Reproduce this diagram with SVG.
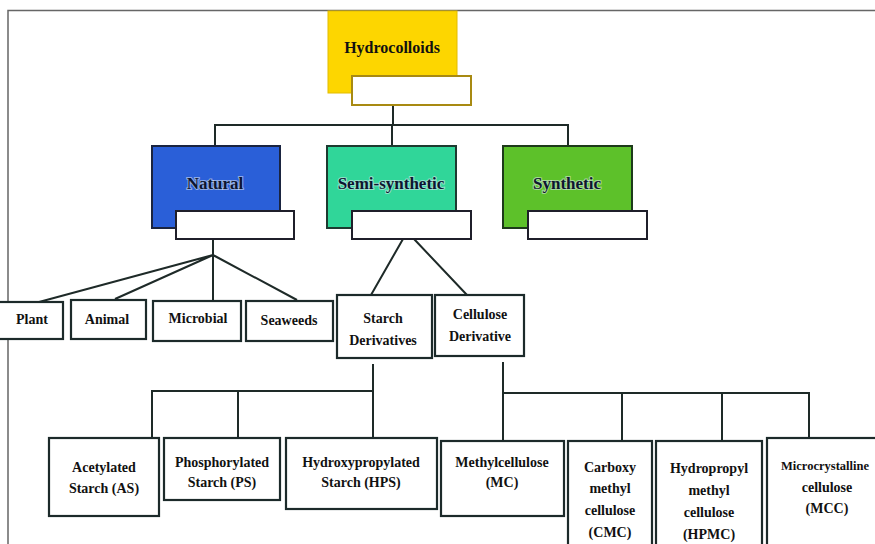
<svg xmlns="http://www.w3.org/2000/svg" width="875" height="544" viewBox="0 0 875 544">
<defs>
<style>
.t{font-family:"Liberation Serif","Times New Roman",serif;font-weight:bold;fill:#111;text-anchor:middle}
.t2{font-size:17px;fill:#0d1530;stroke:#e6ecf5;stroke-width:2;stroke-opacity:.55;paint-order:stroke}
.t3{font-size:14px}
.box{fill:#fff;stroke:#1c2a2a;stroke-width:2.2}
.lbl{fill:#fff;stroke:#1f1f2a;stroke-width:2}
.ln{stroke:#1e2a28;stroke-width:2;fill:none}
.frame{stroke:#666;stroke-width:1.5;fill:none}
</style>
</defs>
<rect width="875" height="544" fill="#fff"/>
<path class="frame" d="M8,544 V10.5 H875"/>

<g id="connectors">
<path class="ln" d="M393,105 V125 M215,125 H569 M215,124 V146 M392,124 V146 M568,124 V146"/>
<path class="ln" d="M213,239 V255 M213,255 L39,302 M213,255 L115,299 M213,255 V300 M213,255 L297,300"/>
<path class="ln" d="M403,239 L371,295 M414,239 L467,295"/>
<path class="ln" d="M373,364 V391 M152,391 H374 M152,390 V440 M238,390 V440 M373,390 V440"/>
<path class="ln" d="M503,362 V393 M503,393 H810 M503,392 V443 M622,392 V443 M722,392 V443 M809,392 V443"/>
</g>

<g id="hydrocolloids">
<rect x="328" y="11" width="129" height="82" fill="#fdd600" stroke="#e2bc00" stroke-width="1"/>
<rect x="352" y="76" width="119" height="29" fill="#fff" stroke="#a88a12" stroke-width="2"/>
<text class="t" x="392" y="53" font-size="16">Hydrocolloids</text>
</g>

<g id="natural">
<rect x="152" y="146" width="128" height="82" fill="#2a5fd8" stroke="#1a2440" stroke-width="2"/>
<rect class="lbl" x="176" y="211" width="118" height="28"/>
<text class="t t2" x="215" y="189">Natural</text>
</g>

<g id="semi-synthetic">
<rect x="327" y="146" width="129" height="82" fill="#30d699" stroke="#1d3a30" stroke-width="2"/>
<rect class="lbl" x="352" y="211" width="119" height="28"/>
<text class="t t2" x="391" y="189">Semi-synthetic</text>
</g>

<g id="synthetic">
<rect x="503" y="146" width="129" height="82" fill="#5dc12a" stroke="#1d3a1a" stroke-width="2"/>
<rect class="lbl" x="528" y="211" width="119" height="28"/>
<text class="t t2" x="567" y="189">Synthetic</text>
</g>

<g id="plant">
<rect class="box" x="-2" y="302" width="65" height="37"/>
<text class="t t3" x="32" y="324">Plant</text>
</g>
<g id="animal">
<rect class="box" x="71" y="300" width="75" height="39"/>
<text class="t t3" x="107" y="324">Animal</text>
</g>
<g id="microbial">
<rect class="box" x="153" y="301" width="88" height="40"/>
<text class="t t3" x="198" y="323">Microbial</text>
</g>
<g id="seaweeds">
<rect class="box" x="246" y="301" width="87" height="40"/>
<text class="t t3" x="289" y="325">Seaweeds</text>
</g>
<g id="starch-derivatives">
<rect class="box" x="337" y="295" width="95" height="63"/>
<text class="t t3" x="383" y="323">Starch</text>
<text class="t t3" x="383" y="345">Derivatives</text>
</g>
<g id="cellulose-derivative">
<rect class="box" x="435" y="295" width="89" height="61"/>
<text class="t t3" x="480" y="319">Cellulose</text>
<text class="t t3" x="480" y="341">Derivative</text>
</g>

<g id="acetylated">
<rect class="box" x="49" y="438" width="110" height="78"/>
<text class="t t3" x="104" y="472">Acetylated</text>
<text class="t t3" x="104" y="493">Starch (AS)</text>
</g>
<g id="phosphorylated">
<rect class="box" x="164" y="438" width="116" height="62"/>
<text class="t t3" x="222" y="467">Phosphorylated</text>
<text class="t t3" x="222" y="487">Starch (PS)</text>
</g>
<g id="hydroxypropylated">
<rect class="box" x="286" y="438" width="151" height="71"/>
<text class="t t3" x="361" y="467">Hydroxypropylated</text>
<text class="t t3" x="361" y="487">Starch (HPS)</text>
</g>
<g id="methylcellulose">
<rect class="box" x="441" y="441" width="123" height="75"/>
<text class="t t3" x="502" y="467">Methylcellulose</text>
<text class="t t3" x="502" y="487">(MC)</text>
</g>
<g id="cmc">
<rect class="box" x="568" y="441" width="84" height="110"/>
<text class="t t3" x="610" y="472">Carboxy</text>
<text class="t t3" x="610" y="493">methyl</text>
<text class="t t3" x="610" y="515">cellulose</text>
<text class="t t3" x="610" y="537">(CMC)</text>
</g>
<g id="hpmc">
<rect class="box" x="656" y="441" width="106" height="110"/>
<text class="t t3" x="709" y="473">Hydropropyl</text>
<text class="t t3" x="709" y="495">methyl</text>
<text class="t t3" x="709" y="517">cellulose</text>
<text class="t t3" x="709" y="539">(HPMC)</text>
</g>
<g id="mcc">
<rect class="box" x="767" y="438" width="132" height="110"/>
<text class="t" x="825" y="470" font-size="13" textLength="88" lengthAdjust="spacingAndGlyphs">Microcrystalline</text>
<text class="t t3" x="827" y="492">cellulose</text>
<text class="t t3" x="827" y="513">(MCC)</text>
</g>
</svg>
